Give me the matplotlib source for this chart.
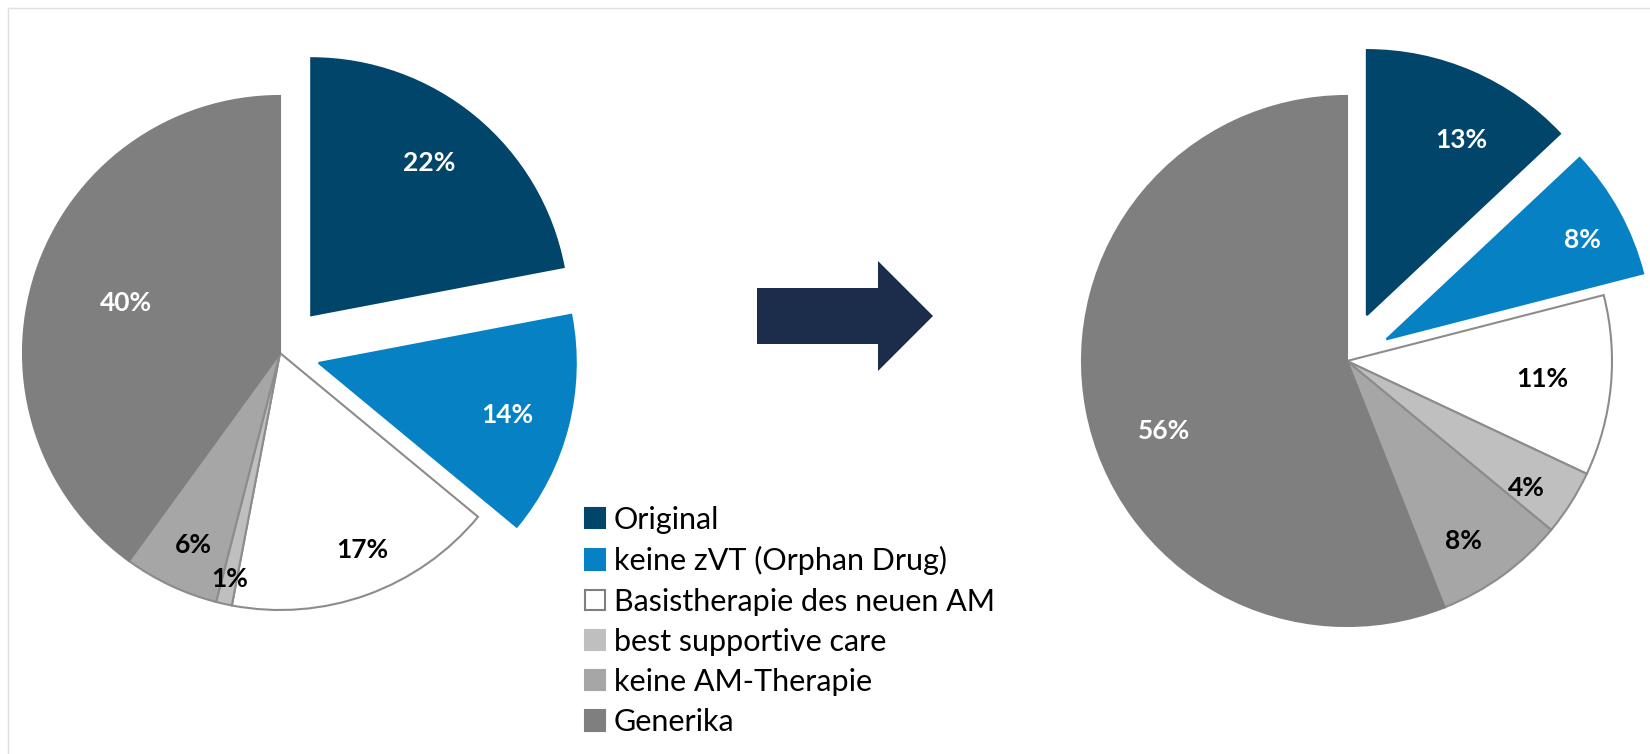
import matplotlib
matplotlib.use('Agg')
import matplotlib.pyplot as plt
from matplotlib.patches import Patch, FancyArrow
import numpy as np

plt.rcParams['font.family'] = ['Lato', 'DejaVu Sans']

# data
categories = ['Original', 'keine zVT (Orphan Drug)', 'Basistherapie des neuen AM',
              'best supportive care', 'keine AM-Therapie', 'Generika']
vorher = [22, 14, 17, 1, 6, 40]
nachher = [13, 8, 11, 4, 8, 56]

colors = ['#02456b', '#0681c4', '#ffffff', '#bfbfbf', '#a6a6a6', '#7f7f7f']
edges = ['#02456b', '#0681c4', '#8c8c8c', '#8c8c8c', '#8c8c8c', '#7f7f7f']
text_colors = ['white', 'white', 'black', 'black', 'black', 'white']

fig = plt.figure(figsize=(16.5, 7.54), dpi=100)
ax = fig.add_axes([0, 0, 1, 1])


def draw_pie(values, center, radius, explode, dist, shift):
    wedges, _ = ax.pie(values, explode=explode, colors=colors, startangle=90,
                       counterclock=False, center=center, radius=radius,
                       wedgeprops=dict(linewidth=1.5))
    for w, ec, v, tc, d, s in zip(wedges, edges, values, text_colors, dist, shift):
        w.set_edgecolor(ec)
        ang = np.deg2rad((w.theta1 + w.theta2) / 2 + s)
        x = w.center[0] + w.r * d * np.cos(ang)
        y = w.center[1] + w.r * d * np.sin(ang)
        ax.text(x, y, '{0}%'.format(v), ha='center', va='center',
                fontsize=19, fontweight='bold', color=tc)
    return wedges


# left pie (vorher)
draw_pie(vorher, (280, 401), 257, [49, 40, 0, 0, 0, 0],
         [0.75, 0.76, 0.83, 0.9, 0.82, 0.63], [2, -1, 3, 0, 1, 0])
# right pie (nachher)
draw_pie(nachher, (1347, 393), 265, [50, 45, 0, 0, 0, 0],
         [0.75, 0.83, 0.74, 0.83, 0.81, 0.74], [-5, -2, 0, -3, -3, 10])

# arrow in the middle
ax.add_patch(FancyArrow(757, 438, 176, 0, width=56, head_width=110, head_length=55,
                        length_includes_head=True, color='#1b2d4b', lw=0))

# legend
handles = []
for i, c in enumerate(colors):
    ec = '#7f7f7f' if i == 2 else c
    handles.append(Patch(facecolor=c, edgecolor=ec, linewidth=1.5))
ax.legend(handles, categories, loc='upper left', bbox_to_anchor=(585 / 1650, 1 - 506 / 754),
          frameon=False, fontsize=22, handlelength=0.65, handleheight=0.65,
          handletextpad=0.3, labelspacing=0.4, borderpad=0, borderaxespad=0)

# thin frame lines
ax.plot([8, 8], [0, 746], color='#e0e0e0', lw=1)
ax.plot([8, 1650], [746, 746], color='#e0e0e0', lw=1)

ax.set_xlim(0, 1650)
ax.set_ylim(0, 754)
ax.set_aspect('equal')
ax.axis('off')

plt.savefig('out.png', dpi=100)
